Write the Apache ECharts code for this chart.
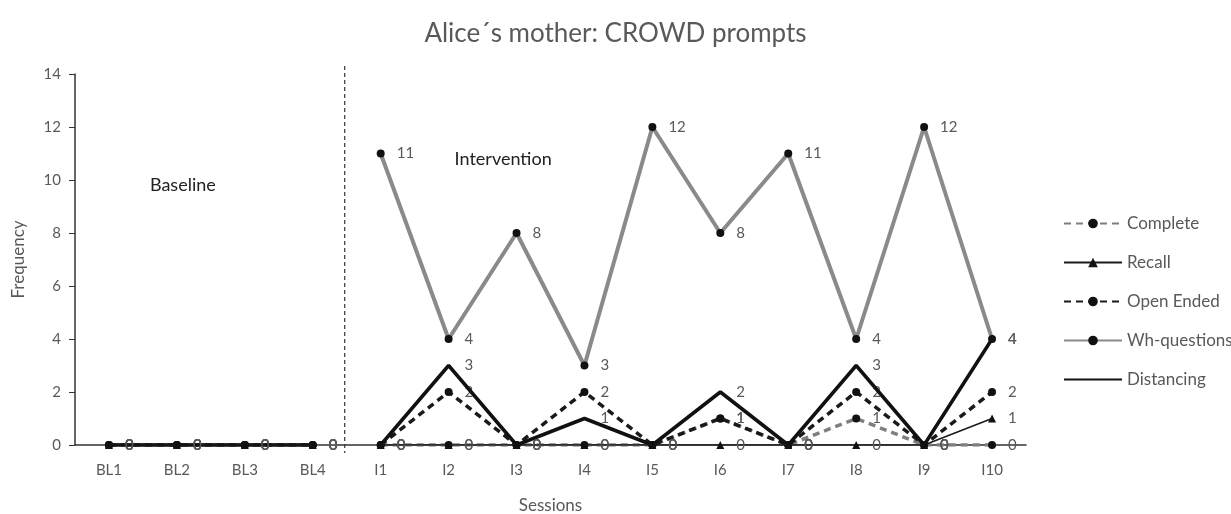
<!DOCTYPE html>
<html>
<head>
<meta charset="utf-8">
<script src="https://cdn.jsdelivr.net/npm/echarts@6/dist/echarts.min.js"></script>
<style>
html,body{margin:0;padding:0;background:#fff;}
#chart{width:1231px;height:514px;}
</style>
</head>
<body>
<div id="chart"></div>
<script>
const categories = ['BL1','BL2','BL3','BL4','I1','I2','I3','I4','I5','I6','I7','I8','I9','I10'];
const baselineCount = 4;
const complete    = [0,0,0,0, 0,0,0,0,0,1,0,1,0,0];
const recall      = [0,0,0,0, 0,0,0,0,0,0,0,0,0,1];
const openEnded   = [0,0,0,0, 0,2,0,2,0,1,0,2,0,2];
const whQuestions = [0,0,0,0, 11,4,8,3,12,8,11,4,12,4];
const distancing  = [0,0,0,0, 0,3,0,1,0,2,0,3,0,4];
const yTicks = [0,2,4,6,8,10,12,14];

const FONT = 'Lato, "Open Sans", sans-serif';
const TXT = '#595959';

const specs = [
  {name:'Complete', data:complete, line:{color:'#7f7f7f', width:3.5, type:[7,5]}, symbol:'circle', size:8, z:3, op:1},
  {name:'Recall', data:recall, line:{color:'#1a1a1a', width:1.5, type:'solid'}, symbol:'triangle', size:8, z:6, op:1},
  {name:'Open Ended', data:openEnded, line:{color:'#1a1a1a', width:3.5, type:[7,5]}, symbol:'circle', size:8, z:4, op:1},
  {name:'Wh-questions', data:whQuestions, line:{color:'#8a8a8a', width:4, type:'solid'}, symbol:'circle', size:8, z:2, op:1},
  {name:'Distancing', data:distancing, line:{color:'#111111', width:3.5, type:'solid'}, symbol:'circle', size:8, z:5, op:0}
];

function part(arr, baseline){
  return arr.map((v,i)=> (baseline ? (i < baselineCount ? v : null) : (i >= baselineCount ? v : null)));
}

const series = [];
specs.forEach(s=>{
  [true,false].forEach(b=>{
    series.push({
      name: s.name,
      type: 'line',
      data: part(s.data, b),
      connectNulls: false,
      symbol: s.symbol,
      symbolSize: s.size,
      showSymbol: true,
      itemStyle: {color: '#111', opacity: s.op},
      lineStyle: {color: s.line.color, width: s.line.width, type: s.line.type},
      label: {show: true, position: 'right', distance: 12, color: TXT, fontSize: 15, fontFamily: FONT, opacity: 1},
      animation: false,
      z: s.z
    });
  });
});

const chart = echarts.init(document.getElementById('chart'));
chart.setOption({
  backgroundColor: '#fff',
  animation: false,
  title: {
    text: 'Alice\u00B4s mother: CROWD prompts',
    left: 'center', top: 16,
    textStyle: {color: TXT, fontSize: 26, fontWeight: 'normal', fontFamily: FONT}
  },
  legend: {
    orient: 'vertical',
    left: 1058, top: 210,
    itemWidth: 58, itemHeight: 12, itemGap: 22,
    data: specs.map(s=>s.name),
    textStyle: {color: TXT, fontSize: 17, fontFamily: FONT}
  },
  grid: {left: 75, right: 205, top: 74, bottom: 69, containLabel: false, outerBoundsMode: 'none'},
  xAxis: {
    type: 'category',
    data: categories,
    boundaryGap: true,
    name: 'Sessions',
    nameLocation: 'middle',
    nameGap: 52,
    nameTextStyle: {color: TXT, fontSize: 17, fontFamily: FONT},
    axisLine: {lineStyle: {color: '#333', width: 1.5}},
    axisTick: {show: false},
    axisLabel: {color: TXT, fontSize: 15, fontFamily: FONT, margin: 18}
  },
  yAxis: {
    type: 'value',
    min: yTicks[0], max: yTicks[yTicks.length-1], interval: 2,
    name: 'Frequency',
    nameLocation: 'middle',
    nameGap: 48,
    nameTextStyle: {color: TXT, fontSize: 17, fontFamily: FONT},
    axisLine: {show: true, lineStyle: {color: '#333', width: 1.5}},
    axisTick: {show: true, length: 6, lineStyle: {color: '#333'}},
    axisLabel: {color: TXT, fontSize: 15, fontFamily: FONT, margin: 14},
    splitLine: {show: false}
  },
  series: series
});

function addAnnotations(){
  const xA = chart.convertToPixel({xAxisIndex:0}, categories[baselineCount-1]);
  const xB = chart.convertToPixel({xAxisIndex:0}, categories[baselineCount]);
  const yTop = chart.convertToPixel({yAxisIndex:0}, 14.3);
  const yBot = chart.convertToPixel({yAxisIndex:0}, -0.3);
  const xm = (xA + xB) / 2 - 2;
  const pBase = chart.convertToPixel({xAxisIndex:0, yAxisIndex:0}, ['BL2', 9.8]);
  const pInt = chart.convertToPixel({xAxisIndex:0, yAxisIndex:0}, ['I2', 10.8]);
  chart.setOption({
    graphic: [
      {type:'line', shape:{x1:xm, y1:yTop, x2:xm, y2:yBot},
       style:{stroke:'#333', lineWidth:1.2, lineDash:[4,3]}, silent:true},
      {type:'text', x:pBase[0]-27, y:pBase[1], style:{text:'Baseline', fill:'#222', fontSize:18, fontFamily:FONT, verticalAlign:'middle'}},
      {type:'text', x:pInt[0]+6, y:pInt[1], style:{text:'Intervention', fill:'#222', fontSize:18, fontFamily:FONT, verticalAlign:'middle'}}
    ]
  });
}
addAnnotations();
</script>
</body>
</html>
